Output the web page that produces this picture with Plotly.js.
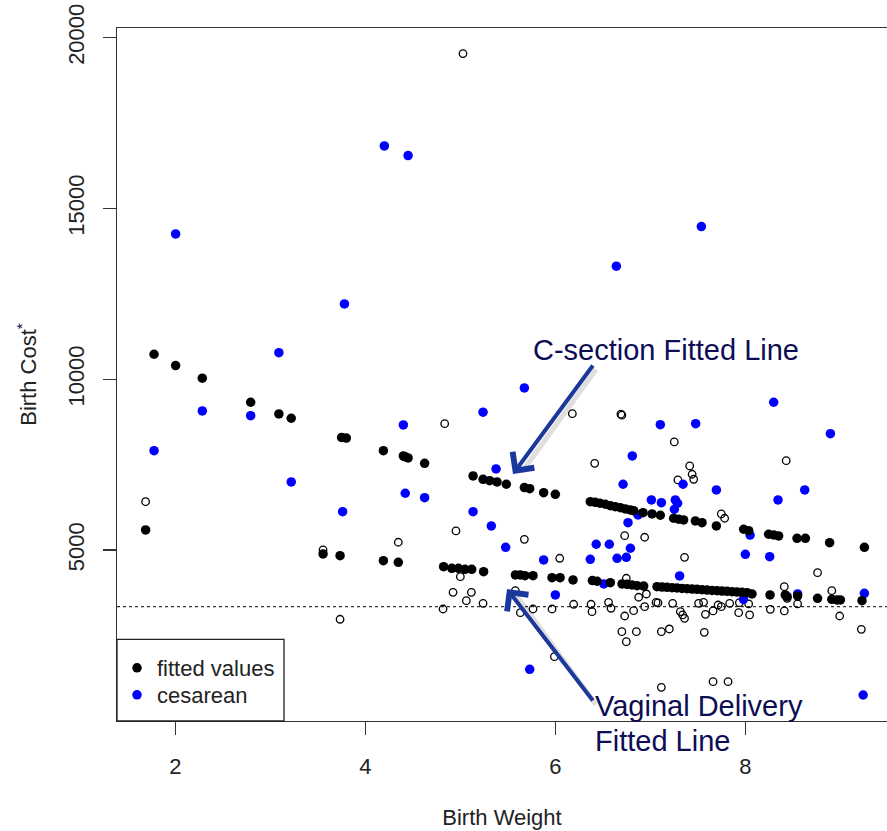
<!DOCTYPE html>
<html>
<head>
<meta charset="utf-8">
<script src="https://cdn.plot.ly/plotly-3.0.1.min.js"></script>
<style>html,body{margin:0;padding:0;background:#fff;}#chart{width:887px;height:831px;}</style>
</head>
<body>
<div id="chart"></div>
<script>
// ---- Data ----
// Vaginal delivery observed costs (open circles)
const vagWeight = [1.687,3.555,3.734,4.347,4.818,4.835,4.923,4.954,5.0,5.028,5.063,5.116,5.239,5.579,5.632,5.674,5.765,5.965,5.99,6.046,6.179,6.193,6.376,6.386,6.414,6.56,6.586,6.69,6.70,6.70,6.73,6.73,6.747,6.747,6.824,6.853,6.877,6.94,6.94,6.958,7.06,7.08,7.116,7.116,7.2,7.235,7.252,7.29,7.316,7.34,7.36,7.36,7.414,7.44,7.456,7.508,7.56,7.568,7.58,7.66,7.66,7.713,7.747,7.747,7.782,7.818,7.835,7.93,7.937,8.035,8.045,8.263,8.41,8.41,8.43,8.44,8.55,8.76,8.91,8.993,9.221];
const vagCost   = [6419,5005,2977,5231,3278,8702,3767,5561,4224,19532,3521,3767,3445,3814,3170,5318,3278,3278,1882,4762,8995,3416,3416,3199,7542,3474,3299,8980,8950,2614,5424,3073,4177,2321,3228,2614,3621,5377,3346,3717,3470,3455,2614,986,2693,3445,8166,7054,3199,3103,3006,4791,7464,7221,7074,3445,3474,2596,3123,3220,1150,3395,6059,3346,5933,1150,3445,3170,3463,3425,3103,3269,3931,3220,7619,3591,3425,4341,3814,3073,2684];

// Cesarean observed costs (blue dots)
const cesWeight = [1.776,2.003,2.284,2.793,3.09,3.22,3.761,3.78,4.20,4.40,4.42,4.45,4.624,5.134,5.239,5.326,5.376,5.477,5.674,5.73,5.877,6.0,6.368,6.43,6.51,6.568,6.642,6.65,6.713,6.747,6.765,6.79,6.81,6.87,7.011,7.105,7.116,7.253,7.263,7.287,7.308,7.344,7.477,7.537,7.695,7.98,8.0,8.05,8.256,8.298,8.344,8.55,8.625,8.895,9.24,9.253];
const cesCost   = [7912,14254,9074,8936,10780,6996,6126,12206,16830,8664,6665,16547,6536,6126,9036,5708,7376,5084,9747,1513,4712,3688,4733,5172,4010,5172,13309,4762,6928,4791,5804,5055,7757,6030,6469,8673,6390,6197,6469,6372,4244,6928,8702,14468,6761,3562,4879,5440,4809,9328,6469,3717,6761,8409,761,3738];

// Fitted values, C-section line (upper black dots)
const fitCesWeight = [1.776,2.003,2.284,2.793,3.09,3.22,3.75,3.80,4.19,4.40,4.42,4.45,4.624,5.134,5.239,5.309,5.386,5.484,5.674,5.73,5.877,6.0,6.368,6.42,6.47,6.526,6.579,6.63,6.684,6.737,6.789,6.824,6.923,7.018,7.105,7.245,7.298,7.35,7.474,7.544,7.695,7.982,8.035,8.245,8.298,8.35,8.544,8.632,8.887,9.253];
const fitCesCost   = [10733,10400,10031,9328,8986,8860,8300,8280,7912,7757,7730,7700,7542,7171,7074,7034,6995,6928,6830,6800,6683,6635,6419,6401,6372,6343,6302,6273,6243,6205,6176,6155,6097,6059,6021,5933,5904,5883,5854,5804,5708,5611,5570,5465,5444,5415,5347,5347,5219,5084];

// Fitted values, vaginal delivery line (lower black dots)
const fitVagWeight = [1.687,3.555,3.734,4.19,4.347,4.824,4.91,4.98,5.05,5.12,5.245,5.58,5.63,5.68,5.765,5.965,6.05,6.186,6.39,6.44,6.579,6.702,6.754,6.807,6.86,6.93,7.07,7.123,7.175,7.228,7.281,7.333,7.386,7.439,7.491,7.544,7.597,7.649,7.702,7.754,7.807,7.86,7.912,7.965,8.018,8.07,8.26,8.42,8.44,8.55,8.76,8.91,8.965,9.0,9.228];
const fitVagCost   = [5590,4888,4838,4692,4645,4517,4469,4469,4440,4440,4370,4273,4273,4253,4253,4194,4194,4127,4110,4090,4048,4010,4000,3980,3960,3950,3931,3920,3912,3900,3893,3880,3872,3861,3853,3842,3833,3822,3814,3803,3794,3783,3774,3766,3755,3717,3688,3688,3638,3659,3591,3562,3542,3542,3521];

const refLineCost = 3350;          // dotted horizontal reference line
const xTicks = [2, 4, 6, 8];
const yTicks = [5000, 10000, 15000, 20000];

// ---- Styling ----
const FONT = 'Liberation Sans, Arial, Helvetica, sans-serif';
const AX = '#333333';
const TXT = '#222222';
const NAVY = '#0d0d55';
const ARROW = '#1b389c';
const FS = 22;

const traces = [
  {
    type: 'scatter', mode: 'markers', name: 'observed',
    x: vagWeight, y: vagCost, showlegend: false, hoverinfo: 'x+y',
    marker: {symbol: 'circle-open', size: 7.5, color: '#000', line: {width: 1.3, color: '#000'}}
  },
  {
    type: 'scatter', mode: 'markers', name: 'cesarean', legend: 'legend2',
    x: cesWeight, y: cesCost,
    marker: {symbol: 'circle', size: 9.5, color: '#0000ff'}
  },
  {
    type: 'scatter', mode: 'markers', name: 'fitted values', legend: 'legend',
    x: fitCesWeight.concat(fitVagWeight), y: fitCesCost.concat(fitVagCost),
    marker: {symbol: 'circle', size: 9.5, color: '#000000'}
  }
];

// pixel helpers for paper coordinates (plot area: x 117..887, y 28..721)
const PL = 117, PW = 770, PB = 721, PH = 693;
const px = v => (v - PL) / PW;
const py = v => (PB - v) / PH;

function arrow(hx, hy, tx, ty, color, w, head) {
  return {xref: 'paper', yref: 'paper', x: px(hx), y: py(hy), ax: tx - hx, ay: ty - hy,
          axref: 'pixel', ayref: 'pixel', text: '', showarrow: true,
          arrowhead: head, arrowsize: 1.3, arrowwidth: w, arrowcolor: color};
}

function legendBox(topPx) {
  return {
    x: 0, y: py(topPx), xanchor: 'left', yanchor: 'top',
    bgcolor: 'rgba(0,0,0,0)', borderwidth: 0,
    font: {family: FONT, size: FS, color: TXT},
    itemclick: false, itemdoubleclick: false
  };
}

const layout = {
  width: 887, height: 831,
  margin: {l: PL, r: 0, t: 28, b: 831 - PB, pad: 0},
  paper_bgcolor: '#ffffff', plot_bgcolor: '#ffffff',
  font: {family: FONT, size: FS, color: TXT},
  showlegend: true,
  legend: legendBox(647),
  legend2: legendBox(674),
  xaxis: {
    range: [1.386, 9.491], tickmode: 'array', tickvals: xTicks, ticktext: xTicks.map(String),
    ticks: 'outside', ticklen: 13, tickwidth: 1.3, tickcolor: AX,
    showline: true, linecolor: AX, linewidth: 1.3, mirror: true,
    showgrid: false, zeroline: false, ticklabelstandoff: 12,
    tickfont: {family: FONT, size: FS, color: TXT},
    title: {text: 'Birth Weight', font: {family: FONT, size: FS, color: TXT}, standoff: 32},
    automargin: false
  },
  yaxis: {
    range: [0, 20280], tickmode: 'array', tickvals: yTicks, ticktext: yTicks.map(String),
    tickangle: -90,
    ticks: 'outside', ticklen: 13, tickwidth: 1.3, tickcolor: AX,
    showline: true, linecolor: AX, linewidth: 1.3, mirror: false,
    showgrid: false, zeroline: false, ticklabelstandoff: 10,
    tickfont: {family: FONT, size: FS, color: TXT},
    title: {text: 'Birth Cost<sup><span style="color:' + NAVY + '">*</span></sup>',
            font: {family: FONT, size: FS, color: TXT}, standoff: 21},
    automargin: false
  },
  shapes: [
    {type: 'line', xref: 'paper', x0: 0, x1: 1, yref: 'y', y0: refLineCost, y1: refLineCost,
     line: {color: AX, width: 1.2, dash: 'dot'}, layer: 'below'},
    {type: 'rect', xref: 'paper', yref: 'paper', x0: 0, x1: px(284), y0: 0, y1: py(639.3),
     line: {color: '#222', width: 1.3}, fillcolor: '#ffffff', layer: 'above'}
  ],
  annotations: [
    // soft shadows of the arrow shafts
    arrow(522, 472, 597, 368, 'rgba(0,0,0,0.12)', 5, 0),
    arrow(516, 595, 597, 706, 'rgba(0,0,0,0.12)', 5, 0),
    arrow(513, 474, 594, 364, ARROW, 4, 4),
    arrow(507, 589, 594, 702, ARROW, 4, 4),
    {xref: 'paper', yref: 'paper', x: px(531), y: py(350), xanchor: 'left', yanchor: 'middle',
     text: 'C-section Fitted Line', showarrow: false, font: {family: FONT, size: 29, color: NAVY}},
    {xref: 'paper', yref: 'paper', x: px(593), y: py(706), xanchor: 'left', yanchor: 'middle',
     text: 'Vaginal Delivery', showarrow: false, font: {family: FONT, size: 29, color: NAVY}},
    {xref: 'paper', yref: 'paper', x: px(593), y: py(741), xanchor: 'left', yanchor: 'middle',
     text: 'Fitted Line', showarrow: false, font: {family: FONT, size: 29, color: NAVY}}
  ]
};

Plotly.newPlot('chart', traces, layout, {staticPlot: true, displayModeBar: false});
</script>
</body>
</html>
